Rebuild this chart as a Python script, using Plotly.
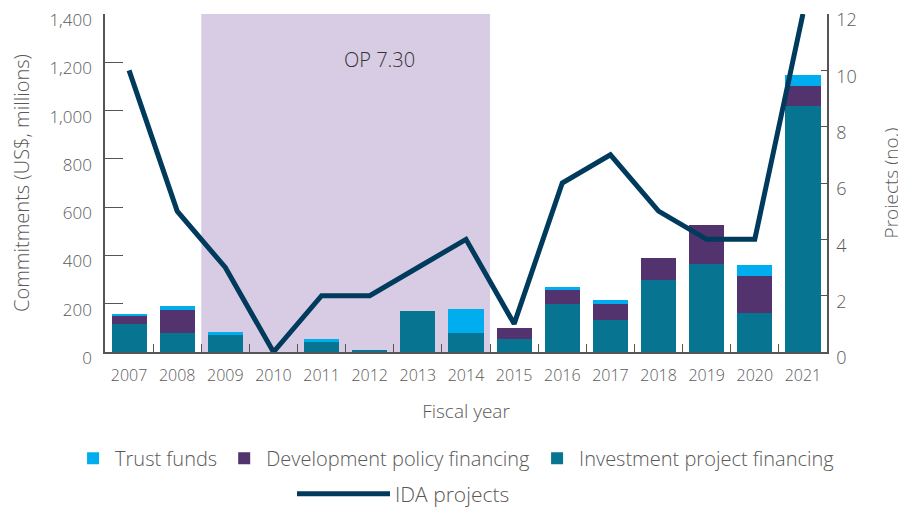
import plotly.graph_objects as go

years = ["2007", "2008", "2009", "2010", "2011", "2012", "2013", "2014",
         "2015", "2016", "2017", "2018", "2019", "2020", "2021"]
ipf = [115, 80, 69, 0, 44, 6, 168, 77, 52, 197, 131, 297, 363, 160, 1021]
dpf = [38, 93, 0, 0, 0, 0, 0, 0, 46, 58, 66, 91, 161, 153, 79]
tf = [3, 16, 12, 0, 8, 0, 0, 100, 0, 13, 17, 0, 0, 46, 48]
ida_projects = [10, 5, 3, 0, 2, 2, 3, 4, 1, 6, 7, 5, 4, 4, 12]

FONT = "Open Sans"
GREY = "#595959"
W = 300

def f(size, color=GREY):
    return dict(family=FONT, size=size, color=color, weight=W)

fig = go.Figure()
fig.add_trace(go.Bar(x=years, y=ipf, name="Investment project financing",
                     marker_color="#077591", marker_line_width=0, legend="legend"))
fig.add_trace(go.Bar(x=years, y=dpf, name="Development policy financing",
                     marker_color="#53336e", marker_line_width=0, legend="legend"))
fig.add_trace(go.Bar(x=years, y=tf, name="Trust funds",
                     marker_color="#00aeef", marker_line_width=0, legend="legend"))
fig.add_trace(go.Scatter(x=years, y=ida_projects, name="IDA projects", yaxis="y2",
                         mode="lines", line=dict(color="#003a5d", width=5),
                         legend="legend2"))

fig.add_shape(type="rect", xref="x", yref="paper", x0=1.5, x1=7.5, y0=0, y1=1,
              fillcolor="#d8cce4", line_width=0, layer="below")
fig.add_annotation(x=0.328, y=0.91, xref="paper", yref="paper", text="OP 7.30",
                   showarrow=False, font=f(20, "#333"))

fig.update_layout(
    width=898, height=500,
    margin=dict(l=97, r=79, t=6, b=156, autoexpand=False),
    plot_bgcolor="white", paper_bgcolor="white",
    barmode="stack", bargap=0.27,
    font=f(16),
    xaxis=dict(type="category", showline=True, linecolor="#555", linewidth=1.5,
               ticks="inside", ticklen=8, tickcolor="#555", tickson="boundaries",
               showgrid=False, tickfont=f(16), automargin=False, ticklabelstandoff=8,
               title=dict(text="Fiscal year", font=f(19), standoff=20)),
    yaxis=dict(range=[0, 1400], tickvals=[0, 200, 400, 600, 800, 1000, 1200, 1400],
               ticktext=["0", "200", "400", "600", "800", "1,000", "1,200", "1,400"],
               showline=True, linecolor="#555", linewidth=1.5, ticks="inside",
               ticklen=18, tickcolor="#555", showgrid=False, zeroline=False,
               tickfont=f(17), ticklabelstandoff=8, ticklabelshift=6,
               ticklabeloverflow="allow", automargin=False,
               title=dict(text="Commitments (US$, millions)", font=f(20), standoff=26)),
    yaxis2=dict(range=[0, 12], tickvals=[0, 2, 4, 6, 8, 10, 12], overlaying="y",
                side="right", showline=True, linecolor="#555", linewidth=1.5,
                ticks="inside", ticklen=6, tickcolor="#555", showgrid=False,
                zeroline=False, tickfont=f(18), ticklabelstandoff=4, ticklabelshift=6,
                ticklabeloverflow="allow", automargin=False,
                title=dict(text="Projects (no.)", font=f(19), standoff=29)),
    legend=dict(orientation="h", x=-0.047, y=-0.257, xanchor="left", yanchor="top",
                traceorder="reversed", font=f(20), itemwidth=34),
    legend2=dict(orientation="h", x=0.259, y=-0.36, xanchor="left", yanchor="top",
                 font=f(21), itemwidth=93),
)

fig.write_html("out.html")
